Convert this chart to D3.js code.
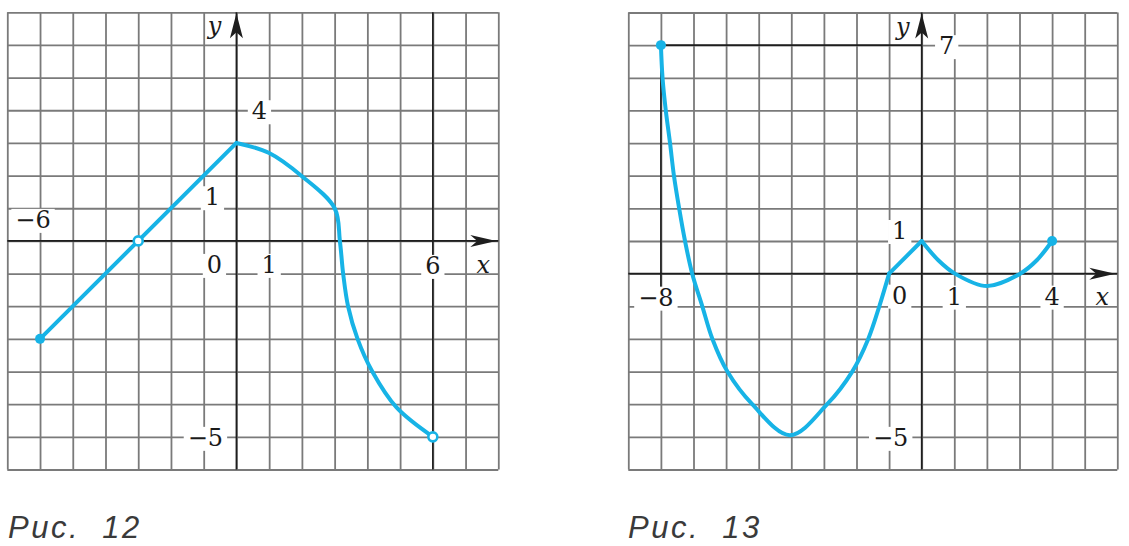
<!DOCTYPE html>
<html>
<head>
<meta charset="utf-8">
<script src="https://cdn.jsdelivr.net/npm/d3@7"></script>
<style>
  html, body { margin: 0; padding: 0; background: #fff; }
  svg { display: block; }
</style>
</head>
<body>
<svg id="chart" width="1129" height="546"></svg>
<script>
// ---------- DATA (grid units) ----------
// Figure 12
const fig12LineX = [-6, 0];
const fig12LineY = [-3, 3];
const fig12CurveX = [0, 1, 2, 3, 3.16, 3.26, 3.41, 3.7, 4.15, 4.89, 6];
const fig12CurveY = [3, 2.69, 1.98, 1, 0, -1, -2, -3, -4, -5.1, -6];
const fig12FilledX = [-6];
const fig12FilledY = [-3];
const fig12OpenX = [-3, 6];
const fig12OpenY = [0, -6];
const fig12XTickValues = [-6, 1, 6];
const fig12XTickLabels = ["\u22126", "1", "6"];
const fig12YTickValues = [4, 1, -6];
const fig12YTickLabels = ["4", "1", "\u22125"];

// Figure 13
const fig13CurveAX = [-8, -7.95, -7.85, -7.72, -7.6, -7.44, -7.26, -7.04, -6.73, -6.42, -5.96, -5.2, -4.04, -2.9, -2.13, -1.64, -1.3, -1];
const fig13CurveAY = [7, 6, 5, 4, 3, 2, 1, 0, -1, -2, -3, -4, -4.95, -4, -3, -2, -1, 0];
const fig13LineX = [-1, 0];
const fig13LineY = [0, 1];
const fig13CurveBX = [0, 0.51, 1.02, 2, 3.02, 3.53, 4];
const fig13CurveBY = [1, 0.41, 0, -0.38, 0, 0.41, 1];
const fig13FilledX = [-8, 4];
const fig13FilledY = [7, 1];
const fig13XTickValues = [-8, 1, 4];
const fig13XTickLabels = ["\u22128", "1", "4"];
const fig13YTickValues = [7, 1, -5];
const fig13YTickLabels = ["7", "1", "\u22125"];

const captions = ["\u0420\u0438\u0441.  12", "\u0420\u0438\u0441.  13"];

// ---------- STYLE ----------
const GRID = "#7a7a7a";
const AXIS = "#1e1e1e";
const CURVE = "#17b3e6";
const SERIF = '"DejaVu Serif"';
const SANS = '"Liberation Sans"';

const svg = d3.select("#chart");

function zip(xs, ys) { return xs.map((x, i) => [x, ys[i]]); }

function drawFigure(cfg) {
  const g = svg.append("g");
  const x = d3.scaleLinear().domain(cfg.xDomain).range(cfg.xRange);
  const y = d3.scaleLinear().domain(cfg.yDomain).range(cfg.yRange);
  const [x0, x1] = cfg.xRange, [y0, y1] = cfg.yRange;

  const xs = d3.range(cfg.xDomain[0], cfg.xDomain[1] + 1);
  const ys = d3.range(cfg.yDomain[1], cfg.yDomain[0] + 1);
  const gx = g.append("g").attr("transform", `translate(0,${y0})`)
    .call(d3.axisBottom(x).tickValues(xs).tickSize(y1 - y0).tickFormat(""));
  const gy = g.append("g").attr("transform", `translate(${x0},0)`)
    .call(d3.axisRight(y).tickValues(ys).tickSize(x1 - x0).tickFormat(""));
  [gx, gy].forEach(a => {
    a.select(".domain").remove();
    a.selectAll("line").attr("stroke", GRID).attr("stroke-width", 1.8);
  });

  cfg.darkLines.forEach(d => {
    g.append("line")
      .attr("x1", x(d[0])).attr("y1", y(d[1]))
      .attr("x2", x(d[2])).attr("y2", y(d[3]))
      .attr("stroke", AXIS).attr("stroke-width", 1.6);
  });

  const labelLayer = g.append("g");

  g.append("line").attr("x1", x0).attr("x2", x1).attr("y1", y(0)).attr("y2", y(0))
    .attr("stroke", AXIS).attr("stroke-width", 1.7);
  g.append("line").attr("x1", x(0)).attr("x2", x(0)).attr("y1", y0).attr("y2", y1)
    .attr("stroke", AXIS).attr("stroke-width", 1.7);
  const tx = x1 - 2, ty = y(0);
  g.append("path").attr("d", `M${tx},${ty} L${tx - 26},${ty - 6} L${tx - 19},${ty} L${tx - 26},${ty + 6} Z`).attr("fill", AXIS);
  const ax = x(0), ay = y0 + 1;
  g.append("path").attr("d", `M${ax},${ay} L${ax - 6.5},${ay + 25} L${ax},${ay + 19} L${ax + 6.5},${ay + 25} Z`).attr("fill", AXIS);

  function label(text, px, py, opts = {}) {
    const t = labelLayer.append("text")
      .attr("x", px).attr("y", py)
      .attr("text-anchor", "middle")
      .style("font-family", SERIF)
      .style("font-size", (opts.size || 24) + "px")
      .style("font-style", opts.italic ? "italic" : "normal")
      .attr("fill", "#1a1a1a")
      .text(text);
    if (opts.bg !== false) {
      const b = t.node().getBBox();
      labelLayer.insert("rect", "text")
        .attr("x", b.x - 4).attr("y", b.y + 3)
        .attr("width", b.width + 8).attr("height", b.height - 4)
        .attr("fill", "#fff");
    }
    return t;
  }

  cfg.xTicks.forEach((v, i) => {
    const o = cfg.xTickOffsets[i];
    label(cfg.xTickLabels[i], x(v) + o[0], y(0) + o[1]);
  });
  cfg.yTicks.forEach((v, i) => {
    const o = cfg.yTickOffsets[i];
    label(cfg.yTickLabels[i], x(0) + o[0], y(v) + o[1]);
  });
  label("0", x(0) + cfg.zeroOffset[0], y(0) + cfg.zeroOffset[1]);
  label("x", x1 - 15, y(0) + cfg.xNameDy, { italic: true, bg: false });
  label("y", x(0) + cfg.yNameDx, y0 + 22, { italic: true, bg: false });

  const lin = d3.line().x(d => x(d[0])).y(d => y(d[1]));
  cfg.lines.forEach(pts => {
    g.append("path").attr("d", lin(pts)).attr("fill", "none")
      .attr("stroke", CURVE).attr("stroke-width", 4).attr("stroke-linecap", "round");
  });
  const smooth = d3.line().x(d => x(d[0])).y(d => y(d[1])).curve(d3.curveCatmullRom.alpha(0.5));
  cfg.curves.forEach(pts => {
    g.append("path").attr("d", smooth(pts)).attr("fill", "none")
      .attr("stroke", CURVE).attr("stroke-width", 4).attr("stroke-linecap", "round")
      .attr("stroke-linejoin", "round");
  });
  g.selectAll(".filled").data(cfg.filled).join("circle")
    .attr("cx", d => x(d[0])).attr("cy", d => y(d[1])).attr("r", 5)
    .attr("fill", CURVE);
  g.selectAll(".open").data(cfg.open).join("circle")
    .attr("cx", d => x(d[0])).attr("cy", d => y(d[1])).attr("r", 4.5)
    .attr("fill", "#fff").attr("stroke", CURVE).attr("stroke-width", 2.6);

  svg.append("text")
    .attr("x", cfg.captionX).attr("y", 538)
    .style("font-family", SANS)
    .style("font-style", "italic")
    .style("font-size", "31px")
    .attr("letter-spacing", 2.5)
    .attr("fill", "#3a3a3a")
    .style("white-space", "pre")
    .text(cfg.caption);
}

drawFigure({
  xDomain: [-7, 8], xRange: [7.3, 498.3],
  yDomain: [7, -7], yRange: [12.3, 469.5],
  darkLines: [[6, 7, 6, -7]],
  xTicks: fig12XTickValues, xTickLabels: fig12XTickLabels,
  xTickOffsets: [[-7, -13], [0, 32], [0, 33]],
  yTicks: fig12YTickValues, yTickLabels: fig12YTickLabels,
  yTickOffsets: [[23, 9], [-24, -3], [-31, 9]],
  zeroOffset: [-22, 32],
  xNameDy: 32, yNameDx: -22,
  lines: [zip(fig12LineX, fig12LineY)],
  curves: [zip(fig12CurveX, fig12CurveY)],
  filled: zip(fig12FilledX, fig12FilledY),
  open: zip(fig12OpenX, fig12OpenY),
  caption: captions[0], captionX: 8
});

drawFigure({
  xDomain: [-9, 6], xRange: [628.3, 1117.3],
  yDomain: [8, -6], yRange: [12.5, 469.5],
  darkLines: [[-8, 7, 0, 7], [-8, 7, -8, -1]],
  xTicks: fig13XTickValues, xTickLabels: fig13XTickLabels,
  xTickOffsets: [[-5, 32], [0, 31], [0, 31]],
  yTicks: fig13YTickValues, yTickLabels: fig13YTickLabels,
  yTickOffsets: [[25, 9], [-22, -2], [-31, 9]],
  zeroOffset: [-22, 30],
  xNameDy: 31, yNameDx: -19,
  lines: [zip(fig13LineX, fig13LineY)],
  curves: [zip(fig13CurveAX, fig13CurveAY), zip(fig13CurveBX, fig13CurveBY)],
  filled: zip(fig13FilledX, fig13FilledY),
  open: [],
  caption: captions[1], captionX: 628
});
</script>
</body>
</html>
